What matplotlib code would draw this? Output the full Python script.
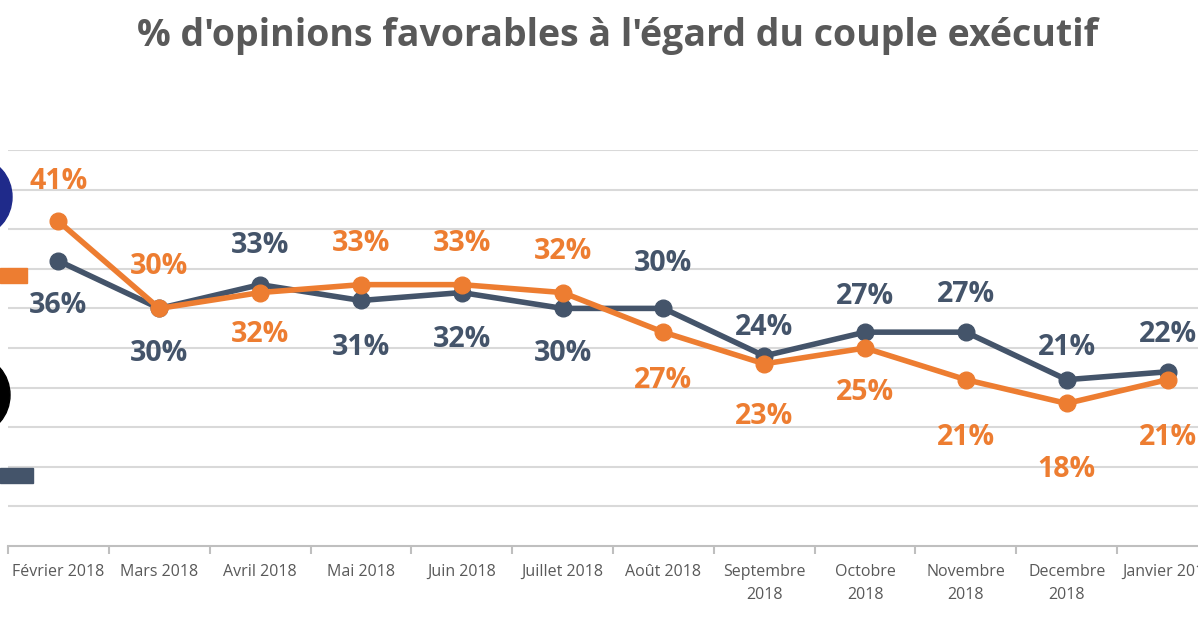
import matplotlib
matplotlib.use("Agg")
import matplotlib.pyplot as plt
from matplotlib.patches import Ellipse, Rectangle

months = ["Février 2018", "Mars 2018", "Avril 2018", "Mai 2018", "Juin 2018",
          "Juillet 2018", "Août 2018", "Septembre\n2018", "Octobre\n2018",
          "Novembre\n2018", "Decembre\n2018", "Janvier 2019"]
orange_vals = [41, 30, 32, 33, 33, 32, 27, 23, 25, 21, 18, 21]
blue_vals = [36, 30, 33, 31, 32, 30, 30, 24, 27, 27, 21, 22]

# label offsets in pixels (positive = above the point)
orange_off = [40, 42, -42, 41, 41, 41, -48, -53, -44, -58, -66, -58]
blue_off = [-45, -45, 39, -47, -47, -45, 45, 28, 36, 38, 32, 37]

ORANGE = "#ED7D31"
BLUE = "#44546A"
GRAY = "#595959"

W, H = 1198, 630
fig = plt.figure(figsize=(W / 100, H / 100), dpi=100)
fig.patch.set_facecolor("white")

left_px, right_px = 8, 1218
top_px, bot_px = 150, 546
ax = fig.add_axes([left_px / W, (H - bot_px) / H, (right_px - left_px) / W, (bot_px - top_px) / H])
ax.set_xlim(-0.5, len(months) - 0.5)
ax.set_ylim(0, 50)

for y in range(5, 51, 5):
    ax.axhline(y, color="#D9D9D9", lw=1.5, zorder=0)

x = list(range(len(months)))
ax.plot(x, blue_vals, color=BLUE, lw=4, marker="o", ms=12, zorder=3)
ax.plot(x, orange_vals, color=ORANGE, lw=4, marker="o", ms=12, zorder=4)

for xi, v, o in zip(x, orange_vals, orange_off):
    ax.annotate(f"{v}%", (xi, v), xytext=(0, o), textcoords="offset pixels",
                ha="center", va="center", color=ORANGE, fontsize=20.5,
                fontweight="bold", family="Open Sans", zorder=5, annotation_clip=False)
for xi, v, o in zip(x, blue_vals, blue_off):
    ax.annotate(f"{v}%", (xi, v), xytext=(0, o), textcoords="offset pixels",
                ha="center", va="center", color=BLUE, fontsize=20.5,
                fontweight="bold", family="Open Sans", zorder=5, annotation_clip=False)

for s in ["top", "right", "left"]:
    ax.spines[s].set_visible(False)
ax.spines["bottom"].set_color("#BFBFBF")
ax.spines["bottom"].set_linewidth(1.5)
ax.set_yticks([])
ax.set_xticks(x)
ax.set_xticklabels(months, fontsize=11.5, color=GRAY, family="Open Sans", linespacing=1.6)
ax.tick_params(axis="x", length=0, pad=13)
ax.set_xticks([i - 0.5 for i in range(len(months) + 1)], minor=True)
ax.tick_params(axis="x", which="minor", length=6, color="#BFBFBF", width=1.5)

fig.text(618 / W, 1 - 36 / H, "% d'opinions favorables à l'égard du couple exécutif",
         ha="center", va="center", fontsize=27, fontweight="bold", color=GRAY,
         family="Open Sans")

# partial legend remnants at the left edge
fax = fig.add_axes([0, 0, 1, 1], facecolor="none")
fax.set_xlim(0, W)
fax.set_ylim(H, 0)
fax.axis("off")
fax.add_patch(Ellipse((-22, 197), 68, 76, color="#1F2A8A"))
fax.add_patch(Ellipse((-24, 395), 68, 76, color="#000000"))
fax.add_patch(Rectangle((0, 268), 27, 15, color=ORANGE))
fax.add_patch(Rectangle((0, 468), 33, 15, color=BLUE))

fig.savefig("out.png", dpi=100)
